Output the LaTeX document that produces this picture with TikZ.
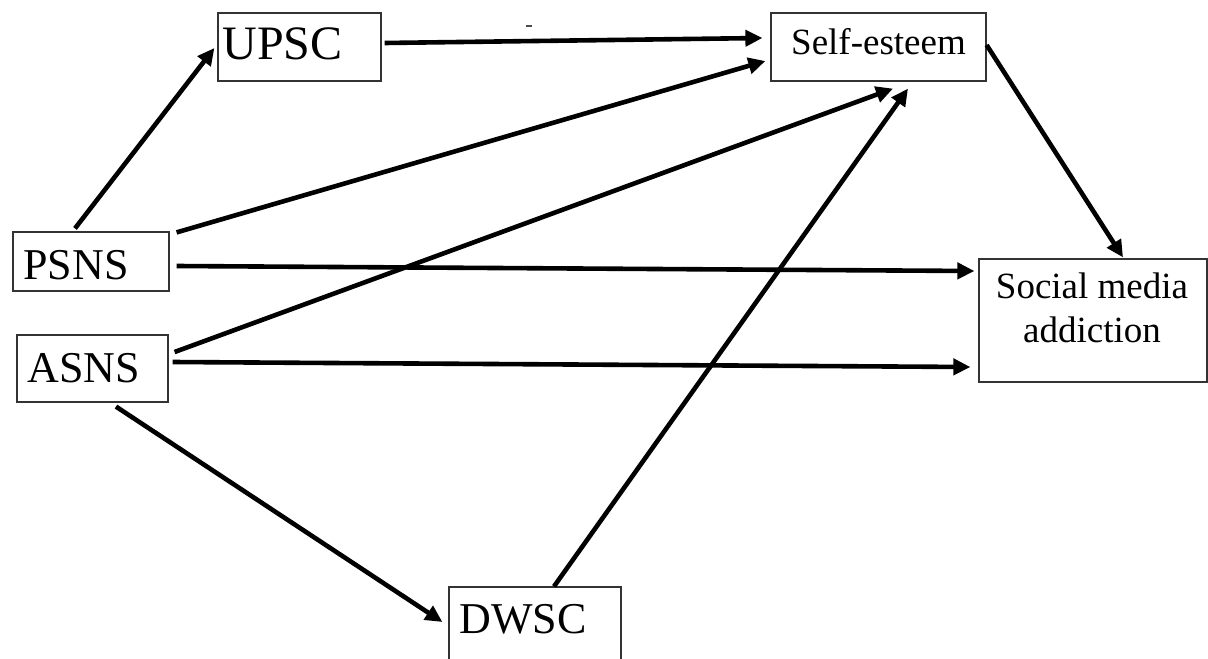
\documentclass[tikz,border=0pt]{standalone}
\usepackage{fontspec}
\setmainfont{Liberation Serif}
\usetikzlibrary{arrows.meta,calc}
\begin{document}
\begin{tikzpicture}[x=0.5pt,y=-0.5pt,
  box/.style={draw=black!80,line width=0.6pt,inner sep=0pt,rectangle},
  bigtxt/.style={inner sep=0pt,anchor=base west,font=\fontsize{22pt}{26pt}\selectfont},
  smalltxt/.style={inner sep=0pt,font=\fontsize{18.5pt}{22pt}\selectfont},
  conn/.style={line width=2.3pt,-{Triangle[length=8.5pt,width=8pt]}}]
\useasboundingbox (0,0) rectangle (1208,658);
\clip (0,0) rectangle (1208,658);
% boxes
\node[box,minimum width=81.5pt,minimum height=34pt] (upsc) at (299.5,47) {};
\node[box,minimum width=107.5pt,minimum height=34pt] (self) at (878.5,47) {};
\node[box,minimum width=78pt,minimum height=29.5pt] (psns) at (91,261.5) {};
\node[box,minimum width=75.5pt,minimum height=33.5pt] (asns) at (92.5,368.5) {};
\node[box,minimum width=114pt,minimum height=61.5pt] (sma) at (1093,320.5) {};
\node[box,minimum width=86pt,minimum height=47.5pt] (dwsc) at (535,634.5) {};
% texts
\node[bigtxt,font=\fontsize{24pt}{28pt}\selectfont] (upsct) at (222,60) {UPSC};
\node[smalltxt,anchor=base] (selft) at (878.5,55) {Self-esteem};
\node[bigtxt] (psnst) at (23,279) {PSNS};
\node[bigtxt] (asnst) at (27,382) {ASNS};
\node[bigtxt] (dwsct) at (459,633) {DWSC};
\node[smalltxt,anchor=base] (smat1) at (1092,298) {Social media};
\node[smalltxt,anchor=base] (smat2) at (1092,342) {addiction};
% connectors
\draw[conn] ($(psns.north)+(-16,-3)$) -- ($(upsc.west)+(-3,1)$);
\draw[conn] ($(upsc.east)+(3,-4)$) -- ($(self.west)+(-8,-9)$);
\draw[conn] ($(psns.north east)+(7,1)$) -- ($(self.west)+(-5,14)$);
\draw[conn] ($(asns.east)+(6,-16.5)$) -- ($(self.south)+(14.5,7)$);
\draw[conn] ($(dwsc.north)+(19,0)$) -- ($(self.south)+(29.5,7)$);
\draw[conn] ($(self.east)+(0,-2)$) -- ($(sma.north)+(30,-1)$);
\draw[conn] ($(psns.east)+(7,4.5)$) -- ($(sma.west)+(-4,-49.5)$);
\draw[conn] ($(asns.east)+(4,-6.5)$) -- ($(sma.west)+(-8,46.5)$);
\draw[conn] ($(asns.south)+(23.5,4)$) -- ($(dwsc.west)+(-6,-12.5)$);
% small stray mark
\draw[line width=1pt,black!70] (526,26) -- (532,26);
\end{tikzpicture}
\end{document}
